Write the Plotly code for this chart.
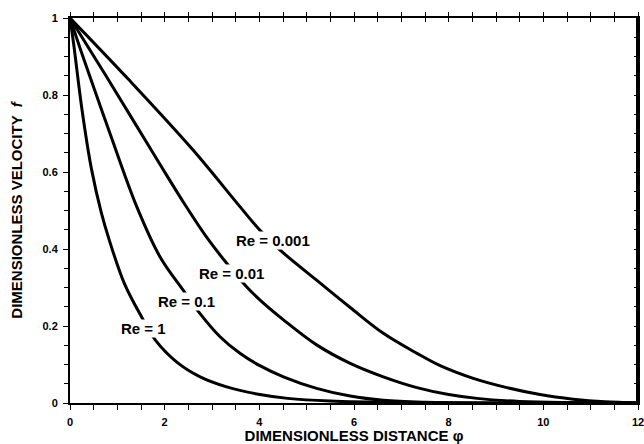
import plotly.graph_objects as go

# Re = 1
re1_x = [0, 0.08, 0.25, 0.45, 0.66, 0.83, 1.15, 1.51, 1.80, 2.25, 2.75, 3.31, 4.01, 4.6, 5.5, 7, 9, 12]
re1_f = [1, 0.93, 0.765, 0.61, 0.495, 0.423, 0.31, 0.224, 0.164, 0.107, 0.068, 0.042, 0.022, 0.012, 0.005, 0.001, 0, 0]
# Re = 0.1
re01_x = [0, 0.3, 0.845, 1.41, 1.90, 2.39, 2.71, 3.17, 3.59, 4.01, 4.51, 5.21, 5.92, 6.62, 7.5, 9, 12]
re01_f = [1, 0.89, 0.70, 0.51, 0.38, 0.293, 0.238, 0.172, 0.129, 0.097, 0.068, 0.038, 0.018, 0.007, 0.002, 0, 0]
# Re = 0.01
re001_x = [0, 0.75, 1.38, 1.90, 2.43, 2.89, 3.31, 3.73, 4.01, 4.51, 5.21, 5.92, 6.62, 7.33, 8.0, 8.6, 9.5, 10.5, 12]
re001_f = [1, 0.852, 0.725, 0.62, 0.515, 0.43, 0.363, 0.302, 0.268, 0.216, 0.151, 0.103, 0.068, 0.04, 0.022, 0.012, 0.004, 0.001, 0]
# Re = 0.001
re0001_x = [0, 1.24, 2.6, 3.59, 4.01, 4.44, 5.21, 5.92, 6.62, 7.33, 7.82, 8.52, 9.23, 9.93, 10.63, 11.3, 12]
re0001_f = [1, 0.84, 0.657, 0.51, 0.449, 0.397, 0.319, 0.248, 0.181, 0.129, 0.097, 0.064, 0.04, 0.022, 0.01, 0.003, 0]

series = [
    ("Re = 1", re1_x, re1_f),
    ("Re = 0.1", re01_x, re01_f),
    ("Re = 0.01", re001_x, re001_f),
    ("Re = 0.001", re0001_x, re0001_f),
]

label_text = ["Re = 1", "Re = 0.1", "Re = 0.01", "Re = 0.001"]
label_x = [1.55, 2.46, 3.42, 4.29]
label_y = [0.194, 0.263, 0.337, 0.423]

x_ticks = [0, 2, 4, 6, 8, 10, 12]
y_ticks = [0, 0.2, 0.4, 0.6, 0.8, 1]
y_ticklabels = ["0", "0.2", "0.4", "0.6", "0.8", "1"]

FONT = "Liberation Sans, Arial, sans-serif"

fig = go.Figure()
for name, xs, fs in series:
    fig.add_trace(go.Scatter(x=xs, y=fs, mode="lines", name=name,
                             line=dict(color="black", width=3, shape="spline", smoothing=1.0),
                             showlegend=False, hoverinfo="skip"))

# empty helper traces so the overlay axes (top/right tick marks) are drawn
fig.add_trace(go.Scatter(x=[], y=[], xaxis="x2", yaxis="y2", showlegend=False))
fig.add_trace(go.Scatter(x=[], y=[], xaxis="x3", yaxis="y2", showlegend=False))

for t, lx, ly in zip(label_text, label_x, label_y):
    fig.add_annotation(x=lx, y=ly, text="<b>" + t + "</b>", showarrow=False,
                       bgcolor="white", font=dict(family=FONT, size=15, color="black"),
                       borderpad=0)

tick_common = dict(showgrid=False, zeroline=False, automargin=False)

fig.update_layout(
    width=644, height=444, autosize=False,
    margin=dict(l=70, r=6, t=18, b=41),
    paper_bgcolor="white", plot_bgcolor="white",
    font=dict(family=FONT, color="black"),
    xaxis=dict(range=[0, 12], tickvals=x_ticks, ticktext=[str(v) for v in x_ticks],
               ticks="outside", ticklen=5, tickwidth=1, tickcolor="black",
               minor=dict(dtick=0.5, ticks="outside", ticklen=5, tickcolor="black", tickwidth=1),
               showline=True, linecolor="black", linewidth=2, mirror=True,
               ticklabelstandoff=3, ticklabeloverflow="allow",
               tickfont=dict(family=FONT, size=11, weight="bold"),
               title=dict(text="<b>DIMENSIONLESS DISTANCE φ</b>", font=dict(family=FONT, size=15), standoff=4),
               **tick_common),
    xaxis2=dict(range=[0, 12], overlaying="x", side="top", anchor="y",
                tickvals=x_ticks, showticklabels=False,
                ticks="outside", ticklen=5, tickwidth=1, tickcolor="black",
                minor=dict(dtick=0.5, ticks="outside", ticklen=5, tickcolor="black", tickwidth=1),
                showline=False, **tick_common),
    xaxis3=dict(range=[0, 12], overlaying="x", side="top", anchor="y",
                tickvals=x_ticks, showticklabels=False,
                ticks="inside", ticklen=4, tickwidth=1, tickcolor="black",
                minor=dict(dtick=0.5, ticks="inside", ticklen=4, tickcolor="black", tickwidth=1),
                showline=False, **tick_common),
    yaxis=dict(range=[0, 1], tickvals=y_ticks, ticktext=y_ticklabels,
               ticks="outside", ticklen=5, tickwidth=1, tickcolor="black",
               minor=dict(dtick=0.05, ticks="outside", ticklen=4, tickcolor="black", tickwidth=1),
               showline=True, linecolor="black", linewidth=2, mirror=True,
               ticklabelstandoff=3, ticklabeloverflow="allow",
               tickfont=dict(family=FONT, size=11, weight="bold"),
               title=dict(text="<b>DIMENSIONLESS VELOCITY  <i>f</i></b>", font=dict(family=FONT, size=15), standoff=16),
               **tick_common),
    yaxis2=dict(range=[0, 1], overlaying="y", side="right", anchor="x",
                tickvals=y_ticks, showticklabels=False,
                ticks="inside", ticklen=4, tickwidth=1, tickcolor="black",
                minor=dict(dtick=0.05, ticks="inside", ticklen=4, tickcolor="black", tickwidth=1),
                showline=False, **tick_common),
)

# thicker right border
fig.add_shape(type="line", xref="paper", yref="paper", x0=1, x1=1, y0=0, y1=1,
              line=dict(color="black", width=4))

fig.write_html("out.html",
               config=dict(displayModeBar=False, responsive=False),
               post_script="document.body.style.margin='0';document.body.style.padding='0';document.body.style.overflow='hidden';")
